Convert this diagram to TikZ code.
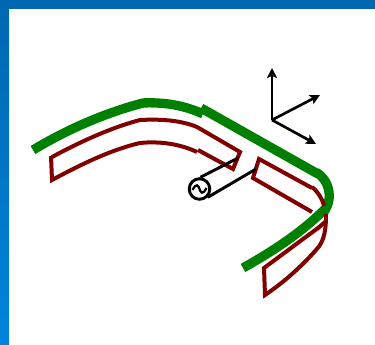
\documentclass[tikz,border=0pt]{standalone}
\usetikzlibrary{arrows.meta,positioning,calc}
\definecolor{FrameTop}{HTML}{0068B0}
\definecolor{FrameLow}{HTML}{0084DC}
\definecolor{ArmGreen}{HTML}{008000}
\definecolor{ArmRed}{HTML}{800000}
\tikzset{
  arm/.style={draw=ArmGreen,line width=7pt},
  strip/.style={draw=ArmRed,line width=3pt,line join=miter},
  feed/.style={draw=black,line width=2.2pt},
  axis/.style={->,draw=black,line width=2pt},
  source/.style={circle,draw=black,line width=2.2pt,fill=white,minimum size=15.4pt,inner sep=0pt}
}

\begin{document}
\begin{tikzpicture}[x=0.75pt,y=-0.75pt,>={Stealth[inset=1.6pt,length=7.5pt,width=7.5pt]}]
  \useasboundingbox (0,0) rectangle (375,345);
  % frame
  \fill[FrameTop] (0,0) rectangle (375,9);
  \shade[top color=FrameTop,bottom color=FrameLow] (0,0) rectangle (9,345);
  % reflector arms
  \draw[arm] (33,150) .. controls (68,129) and (105,113) .. (143,103);
  \draw[arm] (142,103) .. controls (163,102) and (184,105) .. (203,114);
  \draw[arm] (201,108) -- (318,174);
  \draw[arm] (316,172) .. controls (329,180) and (334,197) .. (324,212);
  \draw[arm] (325,209) .. controls (301,233) and (273,251) .. (243,268);
  % strips, left part
  \draw[strip] (52,157) .. controls (80,142) and (110,128) .. (140,120)
    .. controls (160,119) and (180,120) .. (197,127) -- (240,152) -- (233,169) -- (198,150);
  \draw[strip] (197,152) .. controls (180,144) and (160,141) .. (140,143)
    .. controls (110,150) and (80,165) .. (52,180) -- (51,156);
  % strips, right part
  \draw[strip] (312,188) -- (259,159) -- (253,178) -- (312,212);
  \draw[strip] (312,187) .. controls (318,192) and (322,198) .. (324,206);
  \draw[strip] (326,214) .. controls (326,228) and (325,241) .. (316,250)
    .. controls (300,268) and (284,282) .. (265,295) -- (264,268) -- (318,228);
  \draw[strip] (317,229) -- (325,222);
  % source and feed lines
  \node[source] (src) at (199.5,189) {};
  \coordinate (feedA) at (238,158);
  \coordinate (feedB) at (256,169);
  \draw[feed] (src.north) ++(1,0) -- (feedA);
  \draw[feed] (src.south east) -- (feedB);
  \draw[line width=1.7pt] ($(src.center)+(-7,1)$) .. controls ($(src.center)+(-3,-7)$) and ($(src.center)+(-1,-3)$) .. (src.center)
    .. controls ($(src.center)+(1,3)$) and ($(src.center)+(3,7)$) .. ($(src.center)+(7,-1)$);
  % axes
  \coordinate (origin) at (272,120);
  \coordinate (axU) at (272,68);
  \coordinate (axR) at (320,95);
  \coordinate (axD) at (316,144);
  \draw[axis] (origin) -- (axU);
  \draw[axis] (origin) -- (axR);
  \draw[axis] (origin) -- (axD);
\end{tikzpicture}
\end{document}
